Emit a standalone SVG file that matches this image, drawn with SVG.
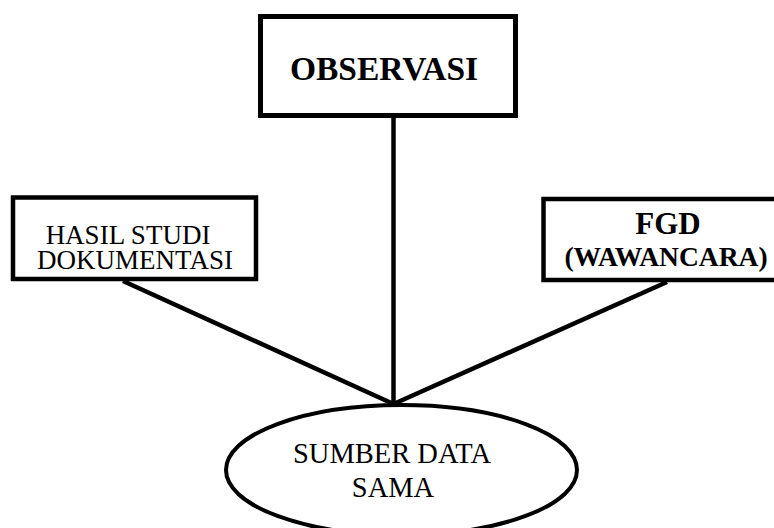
<svg xmlns="http://www.w3.org/2000/svg" width="774" height="528" viewBox="0 0 774 528">
<style>
.box{fill:#fff;stroke:#000;stroke-width:5}
.edge{stroke:#000;stroke-width:4.5;fill:none;stroke-linecap:butt}
.t{font-family:"Liberation Serif","Times New Roman",serif;fill:#000;text-anchor:middle}
.b{font-weight:bold}
</style>
<rect width="774" height="528" fill="#fff"/>
<g id="connectors">
<line class="edge" x1="393.5" y1="115" x2="393.5" y2="404"/>
<line class="edge" x1="123" y1="281" x2="393.5" y2="404"/>
<line class="edge" x1="667" y1="282" x2="393.5" y2="404"/>
</g>
<g id="observasi">
<rect class="box" x="260.5" y="16.5" width="255" height="99"/>
<text class="t b" x="384" y="80" font-size="33.5">OBSERVASI</text>
</g>
<g id="hasil">
<rect class="box" x="13" y="197.5" width="243" height="81.5" style="stroke-width:4.5"/>
<text class="t" font-size="27"><tspan x="128" y="244">HASIL STUDI</tspan><tspan x="135" y="269">DOKUMENTASI</tspan></text>
</g>
<g id="fgd">
<rect class="box" x="543.5" y="199" width="240" height="81" style="stroke-width:4.5"/>
<text class="t b"><tspan x="668" y="234" font-size="31">FGD</tspan><tspan x="666" y="266" font-size="27.5">(WAWANCARA)</tspan></text>
</g>
<g id="sumber">
<ellipse cx="401.5" cy="470" rx="175.5" ry="65" fill="#fff" stroke="#000" stroke-width="4"/>
<text class="t" font-size="28.5"><tspan x="392" y="463">SUMBER DATA</tspan><tspan x="393" y="497">SAMA</tspan></text>
</g>
</svg>
